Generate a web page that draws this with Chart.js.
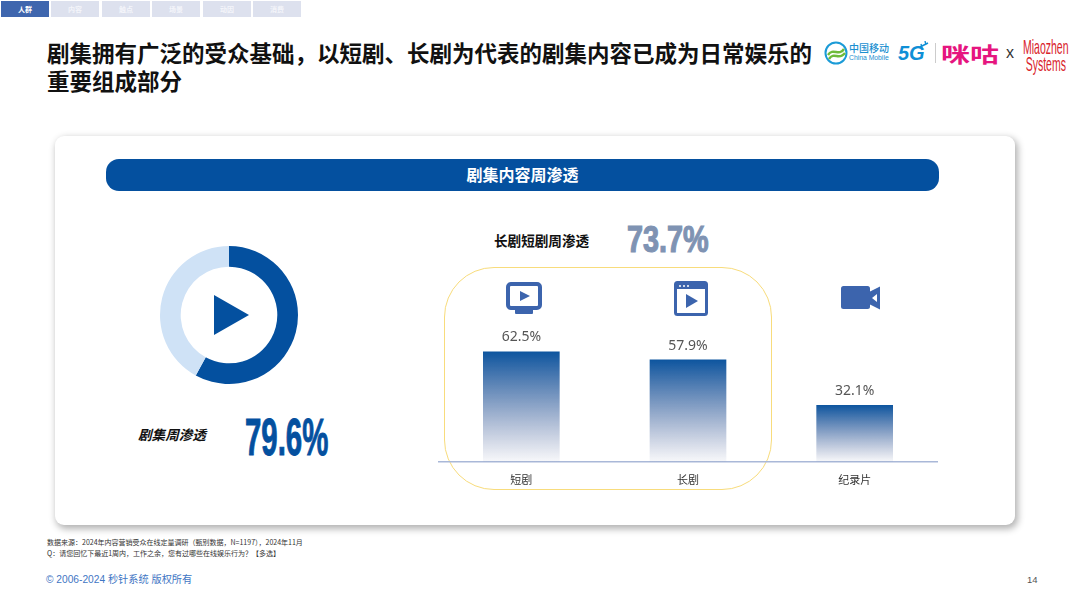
<!DOCTYPE html>
<html lang="zh"><head><meta charset="utf-8">
<script src="https://cdn.jsdelivr.net/npm/chart.js@4"></script>
<style>
html,body{margin:0;padding:0;background:#fff;width:1080px;height:607px;overflow:hidden;font-family:"Noto Sans CJK SC","Noto Sans",sans-serif}
.a{position:absolute;white-space:nowrap}
.tab{position:absolute;top:1px;height:16px;width:48px;background:#dde1ee;color:#f4f5fa;font-size:7px;font-weight:700;text-align:center;line-height:16px}
#title{left:47px;top:38px;font-size:22.5px;font-weight:700;line-height:28px;color:#111}
#card{left:55px;top:136px;width:960px;height:389px;background:#fff;border-radius:9px;box-shadow:2px 3px 7px 1px rgba(0,0,0,.3)}
#pill{left:106px;top:159px;width:833px;height:32px;border-radius:13px;background:#04509f;color:#fff;font-size:16px;font-weight:700;line-height:31px;text-align:center}
#yellow{left:444px;top:267px;width:326px;height:221px;border:1.5px solid #f8dc7c;border-radius:50px}
#big1{left:245px;top:406px;font-family:"Liberation Sans Narrow","Liberation Sans",sans-serif;font-weight:700;font-size:52px;line-height:62px;color:#04509f;transform-origin:0 50%;transform:scaleX(.565);-webkit-text-stroke:1px #04509f}
#big2{left:627px;top:218px;font-family:"Liberation Sans Narrow","Liberation Sans",sans-serif;font-weight:700;font-size:36px;line-height:44px;color:#7f93b3;transform-origin:0 50%;transform:scaleX(.8);-webkit-text-stroke:1.2px #7f93b3}
</style></head><body>
<div class="tab" style="left:1px;background:#3f66ae;color:#fff">人群</div>
<div class="tab" style="left:51px">内容</div>
<div class="tab" style="left:102px">触点</div>
<div class="tab" style="left:152px">场景</div>
<div class="tab" style="left:203px">动因</div>
<div class="tab" style="left:253px">消费</div>
<div class="a" id="title">剧集拥有广泛的受众基础，以短剧、长剧为代表的剧集内容已成为日常娱乐的<br>重要组成部分</div>

<!-- logos -->
<svg class="a" style="left:824px;top:41px" width="24" height="24" viewBox="0 0 24 24" fill="none"><circle cx="12" cy="12" r="10.5" stroke="#1b9bd7" stroke-width="2"/><path d="M4 14C9 6 15 16 20 8M5 18C10 10 15 20 21 12" stroke="#6fbb3a" stroke-width="2.4"/></svg>
<div class="a" style="left:849px;top:42px;font-size:10px;line-height:12px;color:#1b8fd0;font-weight:500">中国移动</div>
<div class="a" style="left:849px;top:54px;font-family:'Liberation Sans';font-size:6.8px;line-height:8px;color:#1b8fd0">China Mobile</div>
<div class="a" style="left:898px;top:41px;font-family:'Liberation Sans';font-size:20px;font-weight:700;font-style:italic;line-height:24px;color:#0f8fd6">5G</div>
<svg class="a" style="left:919px;top:41px" width="11" height="8"><path d="M1 6 L9 2 M6 0 L7 4 M2 3 L3 7" stroke="#0f8fd6" stroke-width="1.4"/></svg>
<div class="a" style="left:935px;top:43px;width:1px;height:20px;background:#ccc"></div>
<div class="a" style="left:941px;top:38px;font-size:21px;font-weight:700;line-height:30px;color:#e6157f;transform-origin:0 50%;transform:scaleX(1.38)">咪咕</div>
<div class="a" style="left:1006px;top:43px;font-family:'Liberation Sans';font-size:16px;line-height:20px;color:#333">x</div>
<div class="a" style="left:1023px;top:38px;font-family:'Liberation Sans Narrow','Liberation Sans';font-size:21px;line-height:17px;color:#d9232b;text-align:center;transform-origin:0 0;transform:scaleX(.5)">Miaozhen<br>Systems</div>

<div class="a" id="card"></div>
<div class="a" id="pill">剧集内容周渗透</div>

<!-- donut -->
<div class="a" style="left:155px;top:241px;width:148px;height:148px"><canvas id="donut" width="148" height="148"></canvas></div>
<svg class="a" style="left:213px;top:294px" width="37" height="42"><polygon points="1,1 36,21 1,41" fill="#04509f"/></svg>
<div class="a" style="left:138px;top:424px;font-size:13.6px;font-weight:700;font-style:italic;line-height:20px;color:#111">剧集周渗透</div>
<div class="a" id="big1">79.6%</div>

<div class="a" style="left:494px;top:230px;font-size:13.6px;font-weight:700;line-height:20px;color:#111">长剧短剧周渗透</div>
<div class="a" id="big2">73.7%</div>
<div class="a" id="yellow"></div>

<!-- icons -->
<svg class="a" style="left:506px;top:282px" width="36" height="33" viewBox="0 0 36 33"><rect x="2" y="2" width="32" height="24" rx="3" fill="none" stroke="#3c64ad" stroke-width="4"/><rect x="9" y="27" width="18" height="5" rx="1" fill="#3c64ad"/><polygon points="14,9 24,14 14,19" fill="#3c64ad"/></svg>
<svg class="a" style="left:674px;top:281px" width="34" height="35" viewBox="0 0 34 35"><rect x="1.5" y="1.5" width="31" height="32" rx="2" fill="none" stroke="#3c64ad" stroke-width="3"/><rect x="2" y="2" width="30" height="6" fill="#3c64ad"/><circle cx="6" cy="5" r="1" fill="#fff"/><circle cx="10" cy="5" r="1" fill="#fff"/><circle cx="14" cy="5" r="1" fill="#fff"/><polygon points="12,13 24,20 12,27" fill="#3c64ad"/></svg>
<svg class="a" style="left:841px;top:286px" width="39" height="24" viewBox="0 0 39 24"><rect x="0" y="0" width="29" height="23" rx="2.5" fill="#3c64ad"/><path d="M28 6 L39 0.5 V23.5 L28 18 Z M31 12 L36 8 V16 Z" fill="#3c64ad" fill-rule="evenodd"/></svg>

<!-- bars -->
<div class="a" style="left:438px;top:317px;width:500px;height:180px"><canvas id="bars" width="500" height="180"></canvas></div>

<div class="a" style="left:47px;top:537px;font-size:7px;line-height:10.5px;color:#333">数据来源：2024年内容营销受众在线定量调研（甄别数据，N=1197），2024年11月<br>Q：请您回忆下最近1周内，工作之余，您有过哪些在线娱乐行为？【多选】</div>
<div class="a" style="left:46px;top:573px;font-family:'Liberation Sans','Noto Sans CJK SC';font-size:10.2px;line-height:14px;color:#3f76c4">© 2006-2024 秒针系统 版权所有</div>
<div class="a" style="left:1027px;top:574px;font-family:'Liberation Sans';font-size:9.5px;line-height:12px;color:#555">14</div>

<script>
const barCategories = ["短剧", "长剧", "纪录片"];
const barValues = [62.5, 57.9, 32.1];
const donutLabels = ["深色", "浅色"];
const donutValues = [58, 42];

Chart.defaults.animation = false;
Chart.defaults.responsive = false;

new Chart(document.getElementById("donut"), {
  type: "doughnut",
  data: { labels: donutLabels, datasets: [{ data: donutValues, backgroundColor: ["#04509f", "#cfe2f6"], borderWidth: 0 }] },
  options: { cutout: "70%", layout: { padding: 5 }, plugins: { legend: { display: false }, tooltip: { enabled: false } } }
});

const valueLabels = {
  id: "valueLabels",
  afterDatasetsDraw(chart) {
    const c = chart.ctx;
    c.save();
    c.font = '14px "Noto Sans","Noto Sans CJK SC",sans-serif';
    c.fillStyle = "#555";
    c.textAlign = "center";
    c.textBaseline = "bottom";
    chart.getDatasetMeta(0).data.forEach((b, i) => c.fillText(barValues[i].toFixed(1) + "%", b.x, b.y - 7));
    c.restore();
  }
};

new Chart(document.getElementById("bars"), {
  type: "bar",
  data: {
    labels: barCategories,
    datasets: [{
      data: barValues,
      barPercentage: 0.92,
      categoryPercentage: 0.5,
      backgroundColor(ctx) {
        const { chart } = ctx;
        const top = chart.scales.y ? chart.scales.y.getPixelForValue(barValues[ctx.dataIndex]) : NaN;
        const bottom = chart.scales.y ? chart.scales.y.getPixelForValue(0) : NaN;
        if (!Number.isFinite(top) || !Number.isFinite(bottom)) return "#0d559f";
        const g = chart.ctx.createLinearGradient(0, top, 0, bottom);
        g.addColorStop(0, "#0d559f");
        g.addColorStop(1, "rgba(60,80,140,0.04)");
        return g;
      }
    }]
  },
  options: {
    layout: { padding: 0 },
    scales: {
      x: {
        grid: { display: false, drawTicks: false },
        border: { color: "#a9b8d8", width: 1.5 },
        ticks: { color: "#333", padding: 11, font: { size: 11, family: '"Noto Sans CJK SC"' }, maxRotation: 0 }
      },
      y: { display: false, min: 0, max: 82 }
    },
    plugins: { legend: { display: false }, tooltip: { enabled: false } }
  },
  plugins: [valueLabels]
});
</script>
</body></html>
